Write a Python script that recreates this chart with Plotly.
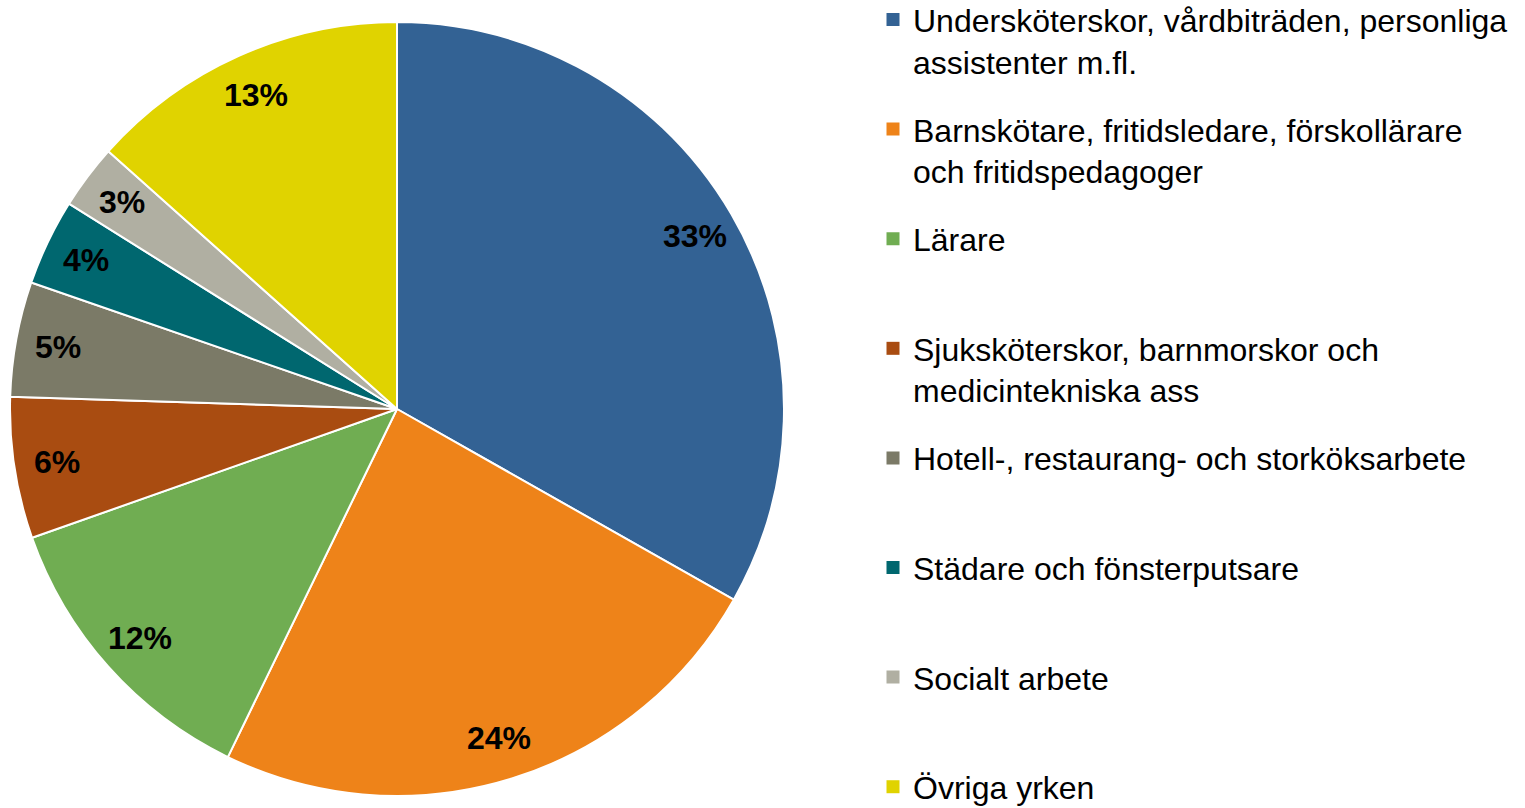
import math
import plotly.graph_objects as go

categories = [
    "Undersköterskor, vårdbiträden, personliga<br>assistenter m.fl.",
    "Barnskötare, fritidsledare, förskollärare<br>och fritidspedagoger",
    "Lärare",
    "Sjuksköterskor, barnmorskor och<br>medicintekniska ass",
    "Hotell-, restaurang- och storköksarbete",
    "Städare och fönsterputsare",
    "Socialt arbete",
    "Övriga yrken",
]
values = [33.2, 24.0, 12.4, 5.9, 4.8, 3.6, 2.7, 13.4]
colors = ["#336294", "#EE8319", "#70AD52", "#A94C11", "#7B7A67", "#00676F", "#B0AFA2", "#E0D300"]

W, H = 1525, 808
FONT = "Liberation Sans, Arial, sans-serif"
LEG_FS = 32

# pie geometry (pixels)
cx_px, cy_px, R_px = 397, 409, 387
dom_x = [(cx_px - R_px) / W, (cx_px + R_px) / W]
dom_y = [1 - (cy_px + R_px) / H, 1 - (cy_px - R_px) / H]

fig = go.Figure()
fig.add_trace(go.Pie(
    labels=categories,
    values=values,
    sort=False,
    direction="clockwise",
    rotation=0,
    marker=dict(colors=colors, line=dict(color="white", width=2)),
    textinfo="none",
    hoverinfo="label+percent",
    showlegend=False,
    domain=dict(x=dom_x, y=dom_y),
))

# one small legend per category, evenly spaced like the reference
line_h = LEG_FS * 1.3
baseline_in_legend = 0.8 * line_h + 6.5
first_baseline = 32
step = 109.6
legend_layouts = {}
for i, (lab, col) in enumerate(zip(categories, colors)):
    key = "legend" if i == 0 else f"legend{i + 1}"
    fig.add_trace(go.Scatter(
        x=[None], y=[None], mode="markers", name=lab,
        marker=dict(symbol="square", size=13, color=col),
        legend=key, showlegend=True, hoverinfo="skip",
    ))
    top = first_baseline + step * i - baseline_in_legend
    legend_layouts[key] = dict(
        x=(913 - 40) / W, xanchor="left",
        y=1 - top / H, yanchor="top",
        valign="top",
        font=dict(family=FONT, size=LEG_FS, color="black"),
        bgcolor="rgba(0,0,0,0)", borderwidth=0,
    )

# percentage labels at slice mid-angles
total = sum(values)
cum = 0.0
annotations = []
for v in values:
    mid = (cum + v / 2) / total * 2 * math.pi
    cum += v
    r = 0.89 * R_px
    px = cx_px + r * math.sin(mid)
    py = cy_px - r * math.cos(mid)
    annotations.append(dict(
        x=px / W, y=1 - py / H, xref="paper", yref="paper",
        text=f"{round(v / total * 100):d}%", showarrow=False,
        font=dict(family=FONT, size=32, color="black", weight="bold"),
        xanchor="center", yanchor="middle",
    ))

fig.update_layout(
    width=W, height=H,
    margin=dict(l=0, r=0, t=0, b=0, autoexpand=False),
    paper_bgcolor="white", plot_bgcolor="white",
    xaxis=dict(visible=False), yaxis=dict(visible=False),
    font=dict(family=FONT, size=32, color="black"),
    annotations=annotations,
    showlegend=True,
    **legend_layouts,
)

fig.write_html(
    "out.html",
    config={"displayModeBar": False},
    post_script="document.body.style.margin='0';document.body.style.overflow='hidden';",
)
